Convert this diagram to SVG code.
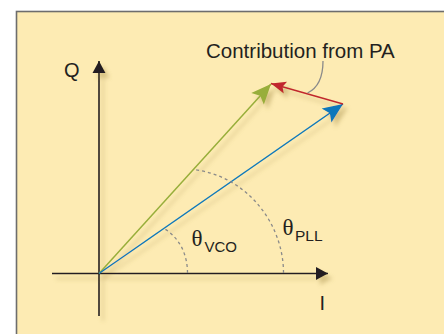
<svg xmlns="http://www.w3.org/2000/svg" width="444" height="334" viewBox="0 0 444 334">
<defs>
<style>
.txt{font-family:"Liberation Sans",Arial,sans-serif;fill:#231f20}
.gr{font-family:"Liberation Serif","Times New Roman",serif;fill:#231f20}
.axis{stroke:#231f20;stroke-width:1.6;fill:none}
.arc{stroke:#8a8a8a;stroke-width:1.3;fill:none;stroke-dasharray:3 3}
</style>
<filter id="sh" x="-20%" y="-20%" width="140%" height="140%">
<feDropShadow dx="4" dy="5" stdDeviation="2" flood-color="#a8904a" flood-opacity="0.45"/>
</filter>
<marker id="ahK" markerUnits="userSpaceOnUse" markerWidth="16" markerHeight="16" viewBox="-13 -8 16 16" refX="0" refY="0" orient="auto">
<path d="M0,0 L-12,-6.5 L-12,6.5 Z" fill="#231f20"/>
</marker>
<marker id="ahG" markerUnits="userSpaceOnUse" markerWidth="24" markerHeight="24" viewBox="-21 -10 24 20" refX="0" refY="0" orient="auto">
<path d="M0,0 L-20,-8.5 L-16,0 L-20,8.5 Z" fill="#98ae3a"/>
</marker>
<marker id="ahB" markerUnits="userSpaceOnUse" markerWidth="24" markerHeight="24" viewBox="-21 -10 24 20" refX="0" refY="0" orient="auto">
<path d="M0,0 L-20,-8.5 L-16,0 L-20,8.5 Z" fill="#0a77bb"/>
</marker>
<marker id="ahR" markerUnits="userSpaceOnUse" markerWidth="20" markerHeight="20" viewBox="-16 -8 20 16" refX="0" refY="0" orient="auto">
<path d="M0,0 L-15,-6 L-12,0 L-15,6 Z" fill="#c1272d"/>
</marker>
</defs>
<rect x="0" y="0" width="444" height="334" fill="#ffffff"/>
<rect id="frame" x="16.5" y="11.5" width="440" height="340" fill="#fdebb3" stroke="#6d6d6d" stroke-width="1.6"/>
<g id="connectors">
<g filter="url(#sh)">
<line id="axis-i" class="axis" x1="52" y1="273.5" x2="328" y2="273.5" marker-end="url(#ahK)"/>
<line id="axis-q" class="axis" x1="99" y1="316" x2="99" y2="61" marker-end="url(#ahK)"/>
<line id="vco" x1="99" y1="273.5" x2="271" y2="84" stroke="#98ae3a" stroke-width="1.5" marker-end="url(#ahG)"/>
<line id="pll" x1="99" y1="273.5" x2="343" y2="104" stroke="#0a77bb" stroke-width="1.5" marker-end="url(#ahB)"/>
<line id="pa" x1="343" y1="104" x2="271" y2="83.5" stroke="#c1272d" stroke-width="1.5" marker-end="url(#ahR)"/>
</g>
<path id="arc-vco" class="arc" d="M187.5,273 C187.5,255 180,238 164,228.5"/>
<path id="arc-pll" class="arc" d="M283.5,273 C283.5,222 245,175 193,169.5"/>
<path id="leader" d="M323,61 C323,76 318,88 307.5,93" fill="none" stroke="#8a8a8a" stroke-width="1.3"/>
</g>
<g id="label-q"><text class="txt" x="64" y="76.5" font-size="20">Q</text></g>
<g id="label-i"><text class="txt" x="319.5" y="310" font-size="20">I</text></g>
<g id="label-pa"><text class="txt" x="206" y="57.5" font-size="20.5">Contribution from PA</text></g>
<g id="label-vco"><text class="gr" x="191.5" y="246.3" font-size="23">θ</text><text class="txt" x="204.5" y="251.7" font-size="15">VCO</text></g>
<g id="label-pll"><text class="gr" x="282.5" y="234.5" font-size="23">θ</text><text class="txt" x="295" y="241" font-size="15.5">PLL</text></g>
</svg>
